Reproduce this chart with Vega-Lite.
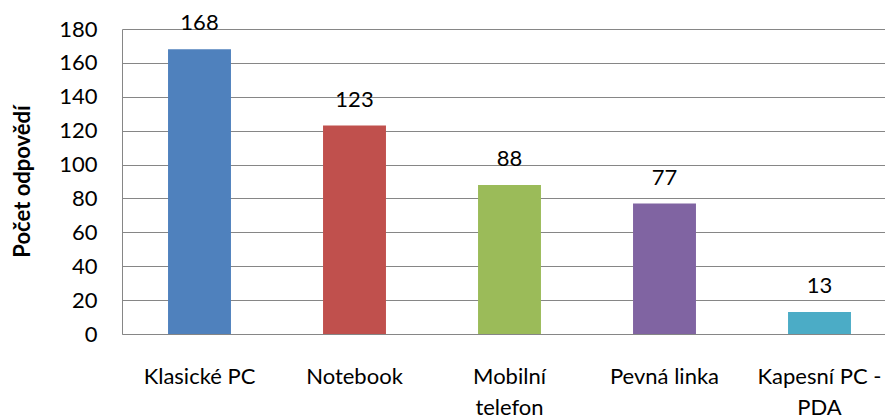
{
  "$schema": "https://vega.github.io/schema/vega-lite/v6.json",
  "autosize": "none",
  "width": 775,
  "height": 305,
  "padding": {"left": 122, "top": 29, "right": 0, "bottom": 84},
  "background": "white",
  "config": {
    "view": {"stroke": null},
    "font": "Lato"
  },
  "data": {
    "values": [
      {"kategorie": "Klasické PC", "pocet": 168},
      {"kategorie": "Notebook", "pocet": 123},
      {"kategorie": "Mobilní telefon", "pocet": 88},
      {"kategorie": "Pevná linka", "pocet": 77},
      {"kategorie": "Kapesní PC - PDA", "pocet": 13}
    ]
  },
  "encoding": {
    "x": {
      "field": "kategorie",
      "type": "nominal",
      "sort": null,
      "scale": {"paddingInner": 0.594, "paddingOuter": 0.297},
      "axis": {
        "title": null,
        "labelAngle": 0,
        "ticks": false,
        "domainColor": "#868686",
        "labelFont": "Lato",
        "labelFontSize": 22,
        "labelColor": "#000000",
        "labelPadding": 42,
        "labelLineHeight": 31,
        "labelBaseline": "middle",
        "labelExpr": "datum.value == 'Mobilní telefon' ? ['Mobilní', 'telefon'] : datum.value == 'Kapesní PC - PDA' ? ['Kapesní PC -', 'PDA'] : datum.value"
      }
    },
    "y": {
      "field": "pocet",
      "type": "quantitative",
      "scale": {"domain": [0, 180], "nice": false},
      "axis": {
        "title": "Počet odpovědí",
        "titleFont": "Lato",
        "titleFontSize": 22,
        "titleFontWeight": "bold",
        "titleColor": "#000000",
        "titleX": -100,
        "titleY": 152,
        "titleAngle": -90,
        "titleAlign": "center",
        "titleBaseline": "middle",
        "values": [0, 20, 40, 60, 80, 100, 120, 140, 160, 180],
        "ticks": false,
        "grid": true,
        "gridColor": "#868686",
        "gridWidth": 1,
        "domainColor": "#868686",
        "labelFont": "Lato",
        "labelFontSize": 22,
        "labelColor": "#000000",
        "labelPadding": 25
      }
    }
  },
  "layer": [
    {
      "mark": {"type": "bar"},
      "encoding": {
        "color": {
          "field": "kategorie",
          "type": "nominal",
          "sort": null,
          "legend": null,
          "scale": {
            "domain": ["Klasické PC", "Notebook", "Mobilní telefon", "Pevná linka", "Kapesní PC - PDA"],
            "range": ["#4F81BD", "#C0504D", "#9BBB59", "#8064A2", "#4BACC6"]
          }
        }
      }
    },
    {
      "mark": {"type": "text", "baseline": "alphabetic", "dy": -19, "fontSize": 22, "font": "Lato", "color": "#000000"},
      "encoding": {"text": {"field": "pocet", "type": "quantitative"}}
    }
  ]
}
